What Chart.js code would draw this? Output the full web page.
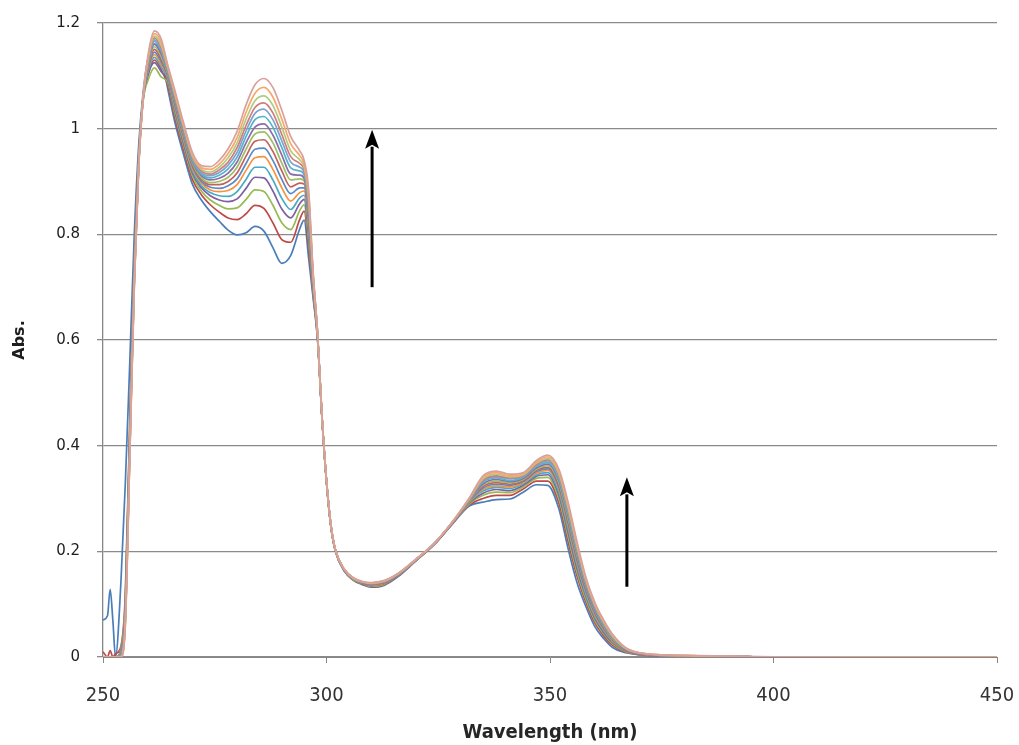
<!DOCTYPE html>
<html>
<head>
<meta charset="utf-8">
<script src="https://cdn.jsdelivr.net/npm/chart.js@4.4.0/dist/chart.umd.min.js"></script>
<style>
  html, body { margin: 0; padding: 0; background: #ffffff; }
  #wrap { width: 1019px; height: 745px; }
</style>
</head>
<body>
<div id="wrap"><canvas id="c" width="1019" height="745"></canvas></div>
<script>
// ---- data (wavelength grid, nm) ----
const wavelengths = [250,251,251.6,252.2,252.8,254,255,256,257,258,259,260,261.5,263,264.5,266,268,270,272,274,276,278,280,282,284,286,288,290,292,294,295,296,297,298,299,300,301,302,304,306,308,310,313,316,320,324,328,332,335,338,341,344,347,349.5,352,354,356,358,360,362,364,367,370,375,380,390,400,420,450];

// ---- absorbance spectra (titration series, bottom -> top) ----
const s1  = [0.07,0.078,0.128,0.07,0,0.14,0.33,0.56,0.8,0.97,1.07,1.13,1.16,1.14,1.075,1.015,0.952,0.895,0.865,0.843,0.825,0.808,0.799,0.803,0.815,0.806,0.775,0.745,0.76,0.81,0.827,0.755,0.68,0.6,0.45,0.33,0.245,0.2,0.162,0.145,0.137,0.132,0.136,0.152,0.182,0.212,0.25,0.286,0.293,0.298,0.299,0.312,0.326,0.325,0.28,0.207,0.142,0.096,0.058,0.035,0.018,0.008,0.004,0.002,0.001,0.001,0,0,0];
const s2  = [0.01,0,0.012,0,0.006,0.02,0.12,0.45,0.75,0.95,1.055,1.1,1.13,1.112,1.082,1.024,0.961,0.904,0.875,0.856,0.842,0.831,0.828,0.839,0.855,0.849,0.822,0.79,0.785,0.828,0.844,0.774,0.687,0.602,0.451,0.331,0.246,0.2,0.163,0.146,0.138,0.133,0.137,0.153,0.182,0.212,0.251,0.288,0.3,0.306,0.306,0.318,0.333,0.333,0.291,0.22,0.154,0.104,0.065,0.04,0.022,0.009,0.005,0.002,0.002,0.001,0,0,0];
const s3  = [0,0,0,0,0,0.015,0.11,0.44,0.745,0.948,1.055,1.09,1.115,1.098,1.087,1.031,0.968,0.911,0.882,0.865,0.855,0.848,0.85,0.866,0.884,0.881,0.855,0.822,0.809,0.845,0.856,0.789,0.693,0.604,0.451,0.331,0.246,0.201,0.163,0.146,0.139,0.134,0.138,0.154,0.183,0.213,0.251,0.29,0.306,0.312,0.311,0.322,0.338,0.34,0.299,0.23,0.162,0.11,0.07,0.044,0.025,0.01,0.005,0.002,0.002,0.001,0,0,0];
const s4  = [0,0,0,0,0,0.012,0.1,0.43,0.74,0.945,1.06,1.1,1.125,1.108,1.091,1.036,0.973,0.916,0.888,0.873,0.865,0.862,0.867,0.887,0.908,0.907,0.882,0.848,0.831,0.858,0.866,0.8,0.697,0.605,0.452,0.332,0.247,0.201,0.163,0.147,0.139,0.135,0.139,0.154,0.183,0.213,0.251,0.292,0.31,0.317,0.315,0.325,0.342,0.345,0.306,0.238,0.169,0.116,0.074,0.047,0.027,0.011,0.005,0.002,0.002,0.001,0,0,0];
const s5  = [0,0,0,0,0,0.01,0.1,0.425,0.735,0.943,1.06,1.105,1.135,1.117,1.094,1.04,0.977,0.92,0.892,0.879,0.873,0.872,0.881,0.904,0.927,0.927,0.903,0.868,0.847,0.869,0.874,0.809,0.701,0.606,0.452,0.332,0.247,0.201,0.164,0.147,0.14,0.136,0.14,0.155,0.183,0.213,0.252,0.293,0.314,0.321,0.319,0.328,0.345,0.349,0.311,0.244,0.175,0.119,0.077,0.05,0.029,0.012,0.006,0.003,0.002,0.001,0,0,0];
const s6  = [0,0,0,0,0,0.008,0.095,0.42,0.73,0.942,1.062,1.108,1.14,1.122,1.097,1.044,0.981,0.924,0.897,0.884,0.881,0.883,0.894,0.921,0.945,0.947,0.923,0.888,0.863,0.879,0.882,0.818,0.704,0.607,0.452,0.332,0.247,0.201,0.164,0.147,0.14,0.136,0.14,0.155,0.183,0.213,0.252,0.294,0.317,0.324,0.322,0.33,0.348,0.353,0.317,0.25,0.18,0.123,0.08,0.052,0.03,0.012,0.006,0.003,0.002,0.001,0,0,0];
const s7  = [0,0,0,0,0,0.006,0.09,0.415,0.725,0.94,1.062,1.11,1.145,1.127,1.099,1.048,0.985,0.928,0.9,0.889,0.887,0.892,0.905,0.934,0.961,0.963,0.94,0.904,0.877,0.888,0.888,0.826,0.707,0.608,0.453,0.333,0.248,0.202,0.164,0.148,0.14,0.137,0.141,0.155,0.184,0.213,0.252,0.295,0.32,0.327,0.325,0.332,0.351,0.356,0.321,0.255,0.184,0.126,0.083,0.054,0.032,0.013,0.006,0.003,0.002,0.001,0,0,0];
const s8  = [0,0,0,0,0,0.005,0.085,0.41,0.722,0.938,1.062,1.112,1.15,1.132,1.102,1.051,0.988,0.931,0.904,0.894,0.894,0.9,0.916,0.948,0.976,0.979,0.957,0.92,0.89,0.897,0.895,0.833,0.71,0.609,0.453,0.333,0.248,0.202,0.164,0.148,0.141,0.137,0.141,0.156,0.184,0.213,0.252,0.296,0.323,0.33,0.327,0.334,0.354,0.359,0.325,0.26,0.189,0.13,0.086,0.056,0.033,0.013,0.006,0.003,0.002,0.001,0,0,0];
const s9  = [0,0,0,0,0,0.004,0.08,0.405,0.72,0.937,1.062,1.115,1.155,1.137,1.104,1.054,0.991,0.934,0.907,0.898,0.9,0.908,0.927,0.961,0.99,0.994,0.973,0.935,0.903,0.905,0.901,0.84,0.713,0.61,0.453,0.333,0.248,0.202,0.165,0.148,0.141,0.138,0.142,0.156,0.184,0.213,0.253,0.296,0.326,0.333,0.33,0.336,0.356,0.362,0.329,0.264,0.193,0.133,0.088,0.058,0.034,0.014,0.007,0.003,0.002,0.001,0,0,0];
const s10 = [0,0,0,0,0,0.003,0.078,0.4,0.716,0.936,1.062,1.118,1.16,1.142,1.107,1.057,0.994,0.937,0.911,0.903,0.906,0.916,0.937,0.973,1.003,1.009,0.988,0.95,0.914,0.912,0.906,0.846,0.715,0.611,0.454,0.334,0.249,0.202,0.165,0.149,0.141,0.138,0.142,0.156,0.184,0.213,0.253,0.297,0.328,0.336,0.332,0.338,0.358,0.365,0.333,0.269,0.197,0.135,0.09,0.06,0.036,0.014,0.007,0.003,0.002,0.001,0,0,0];
const s11 = [0,0,0,0,0,0.002,0.075,0.395,0.713,0.935,1.062,1.12,1.165,1.147,1.109,1.06,0.997,0.94,0.914,0.907,0.912,0.924,0.946,0.985,1.017,1.023,1.003,0.964,0.926,0.92,0.912,0.853,0.718,0.611,0.454,0.334,0.249,0.202,0.165,0.149,0.142,0.139,0.143,0.157,0.184,0.214,0.253,0.298,0.331,0.339,0.334,0.34,0.361,0.368,0.336,0.273,0.201,0.138,0.093,0.061,0.037,0.015,0.007,0.003,0.002,0.001,0,0,0];
const s12 = [0,0,0,0,0,0.002,0.072,0.39,0.71,0.934,1.061,1.122,1.168,1.15,1.111,1.063,1.0,0.943,0.917,0.911,0.917,0.931,0.955,0.996,1.029,1.037,1.017,0.977,0.937,0.927,0.917,0.859,0.72,0.612,0.454,0.334,0.249,0.202,0.165,0.149,0.142,0.139,0.143,0.157,0.184,0.214,0.253,0.299,0.333,0.341,0.337,0.342,0.363,0.371,0.34,0.277,0.204,0.141,0.095,0.063,0.038,0.015,0.007,0.003,0.002,0.001,0,0,0];
const s13 = [0,0,0,0,0,0.001,0.07,0.388,0.708,0.933,1.061,1.125,1.172,1.154,1.113,1.065,1.002,0.945,0.92,0.914,0.922,0.937,0.964,1.006,1.04,1.049,1.03,0.989,0.947,0.934,0.922,0.864,0.722,0.613,0.454,0.334,0.249,0.203,0.165,0.149,0.142,0.14,0.144,0.157,0.185,0.214,0.253,0.299,0.335,0.343,0.339,0.343,0.365,0.373,0.343,0.281,0.208,0.143,0.097,0.064,0.039,0.016,0.007,0.003,0.002,0.001,0,0,0];
const s14 = [0,0,0,0,0,0,0.066,0.385,0.705,0.932,1.06,1.128,1.175,1.158,1.115,1.068,1.005,0.948,0.923,0.918,0.927,0.945,0.973,1.018,1.053,1.062,1.044,1.003,0.958,0.941,0.927,0.87,0.724,0.613,0.454,0.334,0.249,0.203,0.166,0.149,0.142,0.14,0.144,0.157,0.185,0.214,0.254,0.3,0.337,0.346,0.341,0.345,0.367,0.376,0.347,0.285,0.211,0.146,0.099,0.066,0.04,0.016,0.008,0.004,0.003,0.001,0,0,0];
const s15 = [0,0,0,0,0,0,0.063,0.382,0.702,0.931,1.06,1.13,1.18,1.164,1.117,1.071,1.008,0.951,0.926,0.923,0.933,0.953,0.983,1.031,1.067,1.078,1.06,1.018,0.971,0.949,0.933,0.877,0.727,0.614,0.455,0.335,0.25,0.203,0.166,0.15,0.143,0.14,0.144,0.158,0.185,0.214,0.254,0.301,0.34,0.349,0.343,0.347,0.369,0.379,0.351,0.29,0.215,0.149,0.101,0.068,0.042,0.017,0.008,0.004,0.003,0.001,0,0,0];
const s16 = [0,0,0,0,0,0,0.06,0.38,0.7,0.93,1.06,1.135,1.185,1.17,1.12,1.075,1.012,0.955,0.93,0.928,0.94,0.962,0.995,1.045,1.083,1.095,1.078,1.035,0.985,0.958,0.94,0.885,0.73,0.615,0.455,0.335,0.25,0.203,0.166,0.15,0.143,0.141,0.145,0.158,0.185,0.214,0.254,0.302,0.343,0.352,0.346,0.349,0.372,0.382,0.355,0.295,0.22,0.152,0.104,0.07,0.043,0.017,0.008,0.004,0.003,0.0015,0.0005,0,0];

const seriesList = [s1,s2,s3,s4,s5,s6,s7,s8,s9,s10,s11,s12,s13,s14,s15,s16];

// ---- axis ticks ----
const xTicks = [250, 300, 350, 400, 450];
const yTicks = [0, 0.2, 0.4, 0.6, 0.8, 1, 1.2];

// ---- arrow annotations (data coordinates: wavelength, from abs, to abs) ----
const arrowMarks = [
  { x: 310.2, from: 0.70, to: 0.998 },
  { x: 367.2, from: 0.133, to: 0.340 }
];

// ---- styles ----
const colors = ['#4A7EBB','#BE4B48','#98B954','#7D60A0','#46AAC5','#F69240',
                '#5A8AC6','#C4605D','#9FBF62','#8A6EAB','#55B2CB','#7FA3D0',
                '#CF7C7A','#B1CB84','#F7A868','#D8A09E'];

const datasets = seriesList.map((s, k) => ({
  label: 'S' + (k + 1),
  data: wavelengths.map((w, i) => ({ x: w, y: s[i] })),
  borderColor: colors[k],
  backgroundColor: colors[k],
  borderWidth: 1.7,
  pointRadius: 0,
  fill: false,
  cubicInterpolationMode: 'monotone',
  order: seriesList.length - k
}));

const arrowPlugin = {
  id: 'arrows',
  afterDatasetsDraw(chart) {
    const { ctx, scales: { x, y } } = chart;
    ctx.save();
    ctx.strokeStyle = '#000';
    ctx.fillStyle = '#000';
    ctx.lineWidth = 3;
    arrowMarks.forEach(a => {
      const px = x.getPixelForValue(a.x);
      const y0 = y.getPixelForValue(a.from);
      const y1 = y.getPixelForValue(a.to);
      const head = 19, half = 7;
      ctx.beginPath();
      ctx.moveTo(px, y0);
      ctx.lineTo(px, y1 + head - 2);
      ctx.stroke();
      ctx.beginPath();
      ctx.moveTo(px, y1);
      ctx.lineTo(px - half, y1 + head);
      ctx.lineTo(px, y1 + head - 4);
      ctx.lineTo(px + half, y1 + head);
      ctx.closePath();
      ctx.fill();
    });
    ctx.restore();
  }
};

new Chart(document.getElementById('c'), {
  type: 'line',
  data: { datasets },
  plugins: [arrowPlugin],
  options: {
    responsive: false,
    animation: false,
    devicePixelRatio: 1,
    parsing: true,
    layout: { padding: { top: 23, right: 22, left: 0, bottom: 0 } },
    plugins: { legend: { display: false }, tooltip: { enabled: false } },
    scales: {
      x: {
        type: 'linear',
        min: 250, max: 450,
        afterBuildTicks: (axis) => { axis.ticks = xTicks.map(v => ({ value: v })); },
        afterFit: (axis) => { axis.height = 88; axis.paddingLeft = 0; axis.paddingRight = 0; },
        grid: { drawOnChartArea: false, drawTicks: true, tickLength: 6, color: '#868686', lineWidth: 1 },
        border: { display: true, color: '#868686', width: 1 },
        ticks: {
          padding: 21,
          color: '#333333',
          font: { family: '"Liberation Sans Narrow", "DejaVu Sans Condensed", sans-serif', size: 20 },
          maxRotation: 0
        },
        title: {
          display: true,
          text: 'Wavelength (nm)',
          color: '#262626',
          font: { family: '"Liberation Sans Narrow", "DejaVu Sans Condensed", sans-serif', size: 20, weight: 'bold' },
          padding: { top: 0, bottom: 0 }
        }
      },
      y: {
        type: 'linear',
        min: 0, max: 1.2,
        afterBuildTicks: (axis) => { axis.ticks = yTicks.map(v => ({ value: v })); },
        afterFit: (axis) => { axis.width = 103; axis.paddingTop = 0; axis.paddingBottom = 0; },
        grid: { drawOnChartArea: true, drawTicks: true, tickLength: 6, color: '#8a8a8a', lineWidth: 1.3 },
        border: { display: true, color: '#868686', width: 1.3 },
        ticks: {
          padding: 17,
          color: '#1e1e1e',
          font: { family: '"DejaVu Sans", Verdana, sans-serif', size: 15 },
          callback: (v) => String(v)
        },
        title: {
          display: true,
          text: 'Abs.',
          color: '#1e1e1e',
          font: { family: '"DejaVu Sans", Verdana, sans-serif', size: 16, weight: 'bold' },
          padding: { top: 10, bottom: 0 }
        }
      }
    }
  }
});
</script>
</body>
</html>
